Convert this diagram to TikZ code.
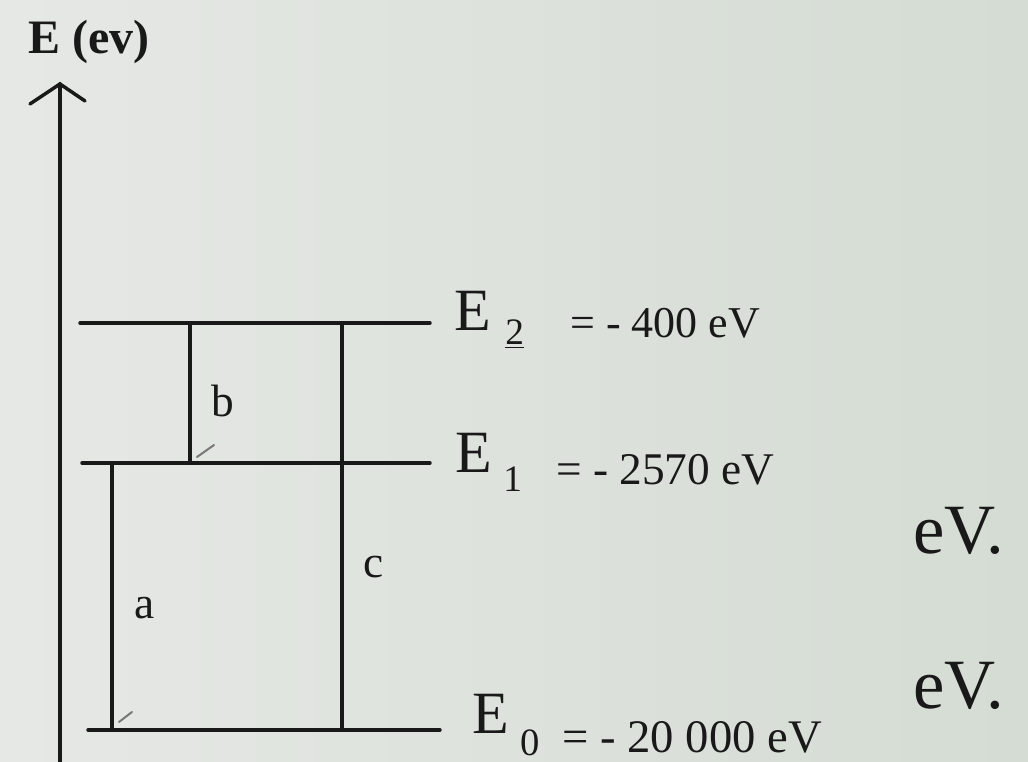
\documentclass[tikz,border=0pt]{standalone}
\usepackage{fontspec}
\setmainfont{Liberation Serif}
\definecolor{bgL}{RGB}{230,232,229}
\definecolor{bgR}{RGB}{212,220,211}
\definecolor{ink}{RGB}{25,25,25}
\definecolor{faint}{RGB}{120,120,118}
\begin{document}
\begin{tikzpicture}[x=0.75pt,y=-0.75pt,
  ln/.style={line width=2.6pt, draw=ink, line cap=round},
  tick/.style={line width=1.5pt, draw=faint, line cap=round},
  bigE/.style={font=\fontsize{45pt}{54pt}\selectfont, text=ink, anchor=base west, inner sep=0pt},
  subs/.style={font=\fontsize{28pt}{32pt}\selectfont, text=ink, anchor=base west, inner sep=0pt},
  val/.style={text=ink, anchor=base west, inner sep=0pt},
  unit/.style={font=\fontsize{53pt}{62pt}\selectfont, text=ink, anchor=base west, inner sep=0pt},
  lbl/.style={font=\fontsize{34pt}{40pt}\selectfont, text=ink, anchor=base west, inner sep=0pt},
  axlbl/.style={font=\bfseries\fontsize{36pt}{42pt}\selectfont, text=ink, anchor=base west, inner sep=0pt}]
\shade[left color=bgL, right color=bgR] (0,0) rectangle (1028,762);
\useasboundingbox (0,0) rectangle (1028,762);

% axis
\coordinate (axB) at (60,766);
\coordinate (axT) at (60,84);
\coordinate (hl) at (30,104);
\coordinate (hr) at (85,101);
\draw[ln] (axB) -- (axT);
\draw[ln] (hl) -- (axT) -- (hr);
\node[axlbl] (axname) at (28,54) {E (ev)};

% levels
\coordinate (E2l) at (80,323);  \coordinate (E2r) at (430,323);
\coordinate (E1l) at (82,463);  \coordinate (E1r) at (430,463);
\coordinate (E0l) at (88,730);  \coordinate (E0r) at (440,730);
\draw[ln] (E2l) -- (E2r);
\draw[ln] (E1l) -- (E1r);
\draw[ln] (E0l) -- (E0r);

% transitions
\coordinate (bT) at (190,323); \coordinate (bB) at (190,463);
\coordinate (cT) at (342,323); \coordinate (cB) at (342,730);
\coordinate (aT) at (112,463); \coordinate (aB) at (112,730);
\draw[ln] (bT) -- (bB);
\draw[ln] (cT) -- (cB);
\draw[ln] (aT) -- (aB);

% faint arrow remnants
\coordinate (bt1) at (197,457); \coordinate (bt2) at (214,445);
\coordinate (at1) at (119,722); \coordinate (at2) at (132,712);
\draw[tick] (bt1) -- (bt2);
\draw[tick] (at1) -- (at2);

\node[lbl] (lb) at (211,417) {b};
\node[lbl] (la) at (134,618) {a};
\node[lbl] (lc) at (363,577) {c};

% level labels
\node[bigE] (E2) at (454,331) {E};
\node[subs] (E2s) at (505,345) {\underline{2}};
\node[val, font=\fontsize{33pt}{38pt}\selectfont] (E2v) at (570,338) {= - 400 eV};

\node[bigE] (E1) at (455,473) {E};
\node[subs] (E1s) at (503,492) {1};
\node[val, font=\fontsize{34pt}{40pt}\selectfont] (E1v) at (556,485) {= - 2570 eV};

\node[bigE] (E0) at (472,733) {E};
\node[subs, font=\fontsize{29pt}{33pt}\selectfont] (E0s) at (520,755) {0};
\node[val, font=\fontsize{35pt}{40pt}\selectfont] (E0v) at (562,752) {= - 20 000 eV};

\node[unit] (u1) at (913,553) {eV.};
\node[unit] (u2) at (913,708) {eV.};
\end{tikzpicture}
\end{document}
